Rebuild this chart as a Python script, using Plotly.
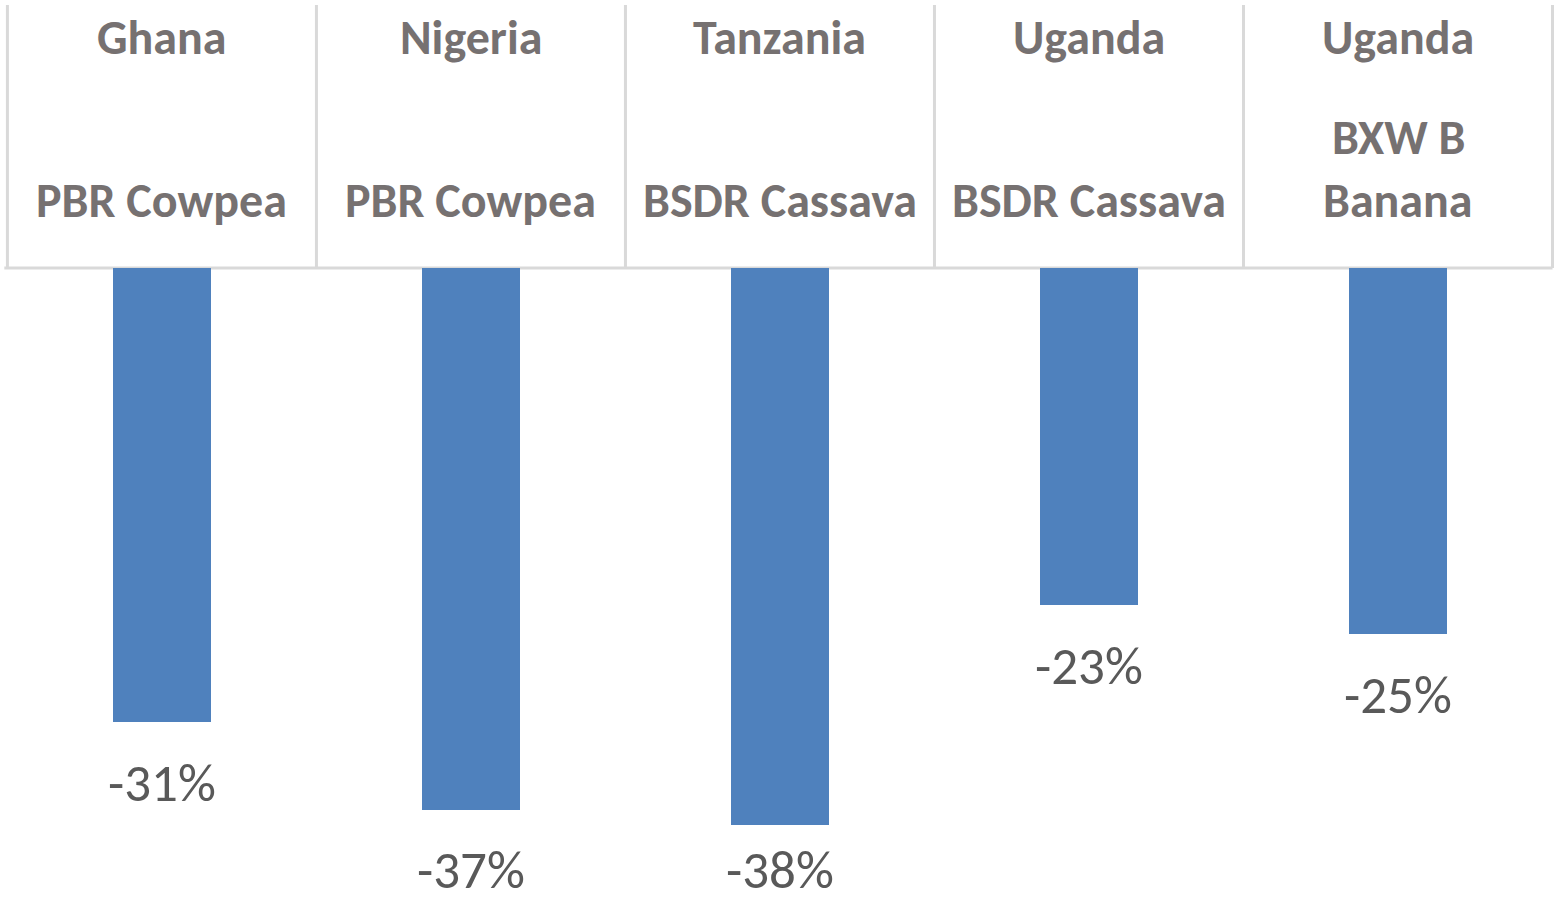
import plotly.graph_objects as go

countries = ["Ghana", "Nigeria", "Tanzania", "Uganda", "Uganda"]
crops = [["PBR Cowpea"], ["PBR Cowpea"], ["BSDR Cassava"], ["BSDR Cassava"], ["BXW B", "Banana"]]
values = [-31, -37, -38, -23, -25]
value_labels = ["-31%", "-37%", "-38%", "-23%", "-25%"]

FONT = "Calibri, Carlito, Lato, sans-serif"
x_idx = list(range(len(values)))

fig = go.Figure()
fig.add_trace(go.Bar(x=x_idx, y=values, width=0.317,
                     marker=dict(color="#4F81BD", line=dict(width=0)),
                     hoverinfo="skip"))

annotations = []
cat_font = dict(family=FONT, size=48, color="#767171", weight="bold")
for i, (c, cl, v, lab) in enumerate(zip(countries, crops, values, value_labels)):
    annotations.append(dict(x=i, y=15.70, text=c, showarrow=False, xref="x", yref="y",
                            yanchor="middle", font=cat_font))
    line_ys = [4.64] if len(cl) == 1 else [8.94, 4.64]
    for t, ly in zip(cl, line_ys):
        annotations.append(dict(x=i, y=ly, text=t, showarrow=False, xref="x", yref="y",
                                yanchor="middle", font=cat_font))
    ly = max(v - 4.16, -41.1)
    annotations.append(dict(x=i, y=ly, text=lab, showarrow=False, xref="x", yref="y",
                            yanchor="middle", font=dict(family=FONT, size=53, color="#595959")))

shapes = []
for k in range(len(values) + 1):
    shapes.append(dict(type="line", xref="x", yref="y", x0=k - 0.5, x1=k - 0.5, y0=0, y1=17.95,
                       line=dict(color="#D9D9D9", width=3), layer="below"))
shapes.append(dict(type="line", xref="x", yref="y", x0=-0.51, x1=4.5, y0=0, y1=0,
                   line=dict(color="#D9D9D9", width=3), layer="below"))

fig.update_layout(
    width=1559, height=901,
    margin=dict(l=0, r=0, t=0, b=0),
    paper_bgcolor="white", plot_bgcolor="white",
    showlegend=False,
    xaxis=dict(range=[-0.524, 4.521], visible=False, fixedrange=True),
    yaxis=dict(range=[-43.2, 18.29], visible=False, fixedrange=True),
    annotations=annotations,
    shapes=shapes,
    bargap=0,
)

fig.write_html("out.html", config={"displayModeBar": False},
               post_script="document.body.style.margin='0';document.body.style.padding='0';document.body.style.overflow='hidden';")
